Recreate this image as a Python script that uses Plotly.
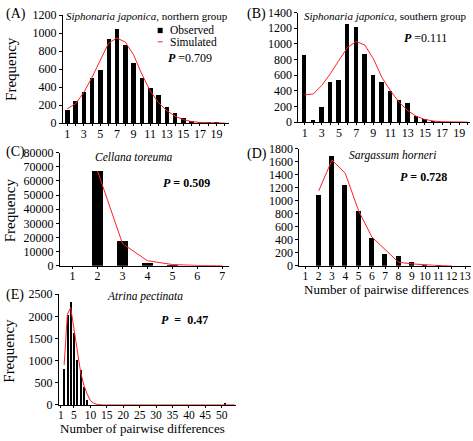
import plotly.graph_objects as go

W, H = 473, 441

# ---------------- data ----------------
a_x = list(range(1, 21))
a_obs = [145, 250, 345, 500, 595, 935, 1040, 865, 665, 500, 390, 315, 180, 108, 55, 25, 12, 5, 2, 1]
a_sim = [160, 215, 340, 510, 700, 890, 945, 900, 760, 545, 360, 230, 140, 78, 40, 18, 8, 4, 2, 1]
a_ticks = list(range(1, 21))
a_ticktext = [str(v) if v % 2 else "" for v in a_ticks]

b_x = list(range(1, 21))
b_obs = [870, 37, 205, 520, 545, 1260, 1220, 875, 610, 525, 400, 285, 250, 82, 50, 25, 8, 3, 2, 1]
b_sim = [350, 360, 470, 620, 790, 955, 1030, 985, 810, 570, 400, 255, 150, 75, 35, 15, 6, 3, 1, 1]

c_x = [1, 2, 3, 4, 5, 6, 7]
c_obs = [0, 67300, 18000, 2200, 300, 80, 20]
c_sim_x = [2, 3, 4, 5, 6, 7]
c_sim = [67000, 15700, 3600, 900, 250, 80]

d_x = list(range(1, 14))
d_obs = [0, 1090, 1690, 1240, 840, 430, 180, 155, 65, 20, 5, 2, 0]
d_sim_x = list(range(2, 13))
d_sim = [1150, 1625, 1420, 847, 443, 250, 55, 30, 12, 4, 1]

e_x = [2, 3, 4, 5, 6, 7, 8, 9, 51]
e_obs = [800, 2020, 2330, 1610, 1000, 780, 390, 110, 40]
e_sim_x = [2, 3, 4, 5, 6, 7, 8, 9, 10, 11, 12, 13, 14, 54]
e_sim = [900, 2050, 2200, 1700, 1150, 750, 450, 250, 100, 40, 12, 3, 0, 0]
e_ticks = [1, 5, 10, 15, 20, 25, 30, 35, 40, 45, 50]

p_values = ["0.709", "0.111", "0.509", "0.728", "0.47"]

# ---------------- helpers ----------------
def fx(px):
    return px / W

def fy(py):
    return 1 - py / H

FONT = "Liberation Serif"
fig = go.Figure()

def bars(x, y, n, width):
    fig.add_trace(go.Bar(x=x, y=y, width=width, marker=dict(color="black", line=dict(width=0)),
                         xaxis="x" + n, yaxis="y" + n, showlegend=False))

def line(x, y, n):
    fig.add_trace(go.Scatter(x=x, y=y, mode="lines", line=dict(color="#ff2020", width=1),
                             xaxis="x" + n, yaxis="y" + n, showlegend=False))

bars(a_x, a_obs, "", 0.55); line(a_x, a_sim, "")
bars(b_x, b_obs, "2", 0.5); line(b_x, b_sim, "2")
bars(c_x, c_obs, "3", 0.43); line(c_sim_x, c_sim, "3")
bars(d_x, d_obs, "4", 0.37); line(d_sim_x, d_sim, "4")
bars(e_x, e_obs, "5", 0.62); line(e_sim_x, e_sim, "5")

tickfont = dict(family=FONT, size=12, color="black")

def xax(dom, rng, tickvals, ticktext, anchor, size=12):
    return dict(domain=[fx(dom[0]), fx(dom[1])], range=rng, tickvals=tickvals, ticktext=ticktext,
                showline=True, linecolor="black", linewidth=1, ticks="outside", ticklen=2,
                tickcolor="black", showgrid=False, zeroline=False,
                tickfont=dict(family=FONT, size=size, color="black"), anchor=anchor,
                tickangle=0, ticklabelstandoff=-3, fixedrange=True)

def yax(dom, rng, dtick, anchor):
    return dict(domain=[fy(dom[1]), fy(dom[0])], range=rng, dtick=dtick,
                showline=True, linecolor="black", linewidth=1, ticks="outside", ticklen=3,
                tickcolor="black", showgrid=False, zeroline=False, tickfont=tickfont, anchor=anchor,
                tickformat="d", fixedrange=True)

layout = dict(
    width=W, height=H, margin=dict(l=0, r=0, t=0, b=0),
    paper_bgcolor="white", plot_bgcolor="white", bargap=0,
    xaxis=xax((62, 228), [0.48, 20.45], a_ticks, a_ticktext, "y"),
    yaxis=yax((8.3, 120), [0, 1200], 200, "x"),
    xaxis2=xax((298, 470), [0.27, 20.25], a_ticks, a_ticktext, "y2"),
    yaxis2=yax((5.7, 119), [0, 1400], 200, "x2"),
    xaxis3=xax((59, 228), [0.49, 7.25], c_x, [str(v) for v in c_x], "y3"),
    yaxis3=yax((150.4, 267.3), [0, 80000], 10000, "x3"),
    xaxis4=xax((299, 471), [0.55, 13.45], d_x, [str(v) for v in d_x], "y4", 11.5),
    yaxis4=yax((146.3, 267.3), [0, 1800], 200, "x4"),
    xaxis5=xax((58, 235), [0.4, 54.2], e_ticks, [str(v) for v in e_ticks], "y5", 11.5),
    yaxis5=yax((296.7, 411), [0, 2500], 500, "x5"),
)
fig.update_layout(**layout)

ann = []
def text(x, y, s, size=12, anchor="center", angle=0):
    ann.append(dict(x=fx(x), y=fy(y), xref="paper", yref="paper", text=s, showarrow=False,
                    xanchor=anchor, yanchor="middle", textangle=angle,
                    font=dict(family=FONT, size=size, color="black")))

# panel labels
text(3, 7, "(A)", 14, "left")
text(245, 7, "(B)", 14, "left")
text(3, 150, "(C)", 14, "left")
text(245, 152, "(D)", 14, "left")
text(3, 297, "(E)", 14, "left")

# species titles
text(63, 9, "<i>Siphonaria japonica</i>, northern group", 11, "left")
text(302, 9, "<i>Siphonaria japonica</i>, southern group", 11, "left")
text(133, 155, "<i>Cellana toreuma</i>", 11.5)
text(392, 153, "<i>Sargassum horneri</i>", 11.5)
text(144, 299, "<i>Atrina pectinata</i>", 11.5)

# P values
text(165, 53, "<b><i>P</i></b> =" + p_values[0], 12, "left")
text(402, 32, "<b><i>P</i></b> =" + p_values[1], 12, "left")
text(160, 182, "<b><i>P</i> = " + p_values[2] + "</b>", 12, "left")
text(398, 176, "<b><i>P</i> = " + p_values[3] + "</b>", 12, "left")
text(158, 323, "<b><i>P</i>  =  " + p_values[4] + "</b>", 12, "left")

# axis titles
text(10, 64, "Frequency", 15, angle=-90)
text(9, 210, "Frequency", 15, angle=-90)
text(8, 355, "Frequency", 15, angle=-90)
text(386, 292, "Number of pairwise differences", 13)
text(142, 435, "Number of pairwise differences", 13)

# legend (panel A)
text(167, 24, "Observed", 11.5, "left")
text(167, 36, "Simulated", 11.5, "left")
fig.update_layout(annotations=ann)
fig.add_shape(type="rect", xref="paper", yref="paper", x0=fx(157), x1=fx(162), y0=fy(27), y1=fy(21.5),
              fillcolor="black", line=dict(width=0))
fig.add_shape(type="line", xref="paper", yref="paper", x0=fx(157), x1=fx(162), y0=fy(36), y1=fy(36),
              line=dict(color="#ff2020", width=1))

fig.write_html("out.html", config={"displayModeBar": False},
               post_script="document.body.style.margin='0px';document.body.style.overflow='hidden';")
